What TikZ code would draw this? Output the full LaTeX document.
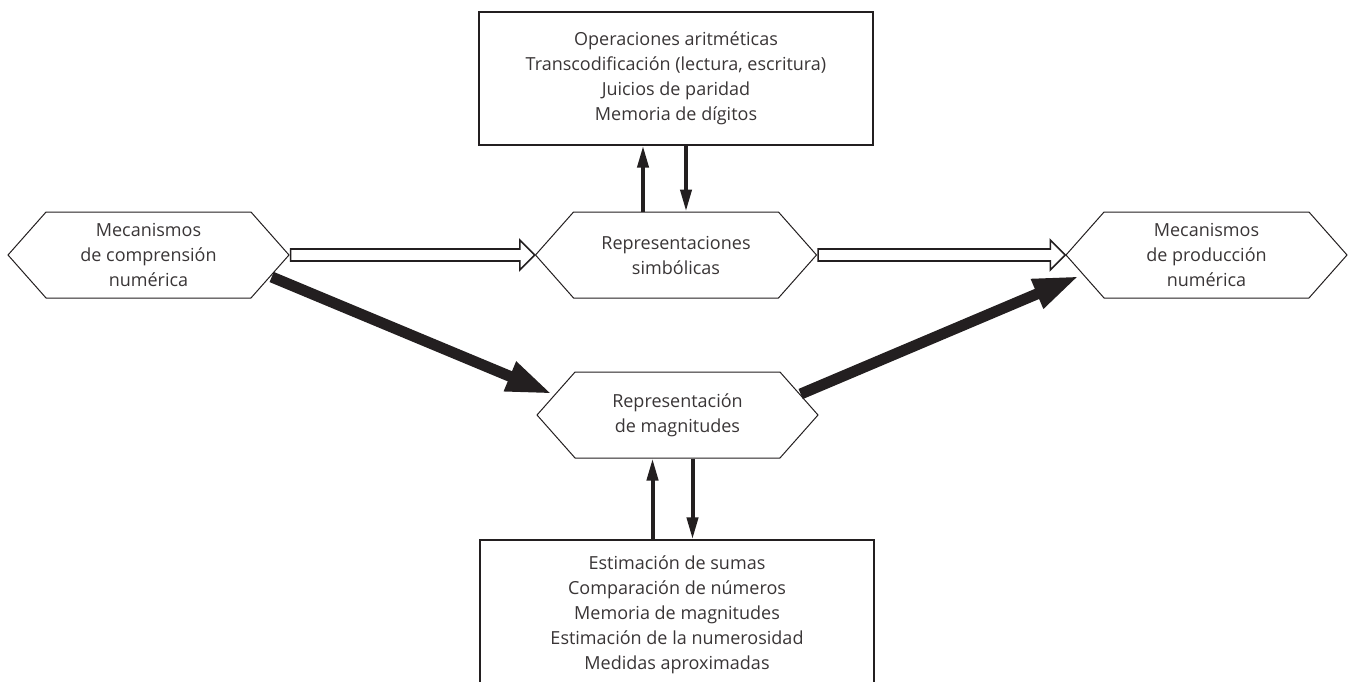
\documentclass[tikz,border=0pt]{standalone}
\usepackage{fontspec}
\setmainfont{Open Sans}
\usetikzlibrary{shapes.symbols,arrows.meta,calc}
\definecolor{ink}{RGB}{35,31,32}

\begin{document}
\begin{tikzpicture}[
            x = 1pt, y = -1pt,
            hexa/.style = {draw = ink, line width = 1pt, signal, signal to = west and east,
                           signal pointer angle = 97, minimum width = 281pt, minimum height = 86pt,
                           inner sep = 0pt, align = center, text = ink!90,
                           font = \fontsize{18}{25}\selectfont},
            tasks/.style = {draw = ink, line width = 1.3pt, rectangle, minimum width = 394pt,
                            align = center, text = ink!90, font = \fontsize{18}{25}\selectfont},
            link/.style = {draw = ink, line width = 4pt, -{Triangle[length = 22pt, width = 11pt]}},
            bold link/.style = {draw = ink, line width = 11pt, -{Triangle[length = 46pt, width = 29pt]}},
            open link/.style = {draw = ink, line width = 1.6pt, fill = white, line join = miter}
            ]
            \useasboundingbox (0,0) rectangle (1351,682);
            \clip (0,0) rectangle (1351,682);

            % hexagons
            \node[hexa] (comp) at (148.5,255) {Mecanismos\\de comprensión\\numérica};
            \node[hexa] (sim) at (676,255) {Representaciones\\simbólicas};
            \node[hexa] (prod) at (1206.5,255) {Mecanismos\\de producción\\numérica};
            \node[hexa] (mag) at (677.5,415) {Representación\\de magnitudes};

            % task boxes
            \node[tasks, minimum height = 133pt] (ops) at (676,78.5)
                 {Operaciones aritméticas\\Transcodificación (lectura, escritura)\\Juicios de paridad\\Memoria de dígitos};
            \node[tasks, minimum height = 150pt] (est) at (677,615)
                 {Estimación de sumas\\Comparación de números\\Memoria de magnitudes\\Estimación de la numerosidad\\Medidas aproximadas};

            % vertical links
            \draw[link] ([xshift = -33pt]sim.north) -- ([xshift = -33pt]sim.north |- ops.south);
            \draw[link] ([xshift = 10pt]sim.north |- ops.south) -- ([xshift = 10pt]sim.north);
            \draw[link] ([xshift = -25pt]mag.south |- est.north) -- ([xshift = -25pt]mag.south);
            \draw[link] ([xshift = 15pt]mag.south) -- ([xshift = 15pt]mag.south |- est.north);

            % bold links
            \draw[bold link] ($(comp.east)+(-18,22)$) -- ($(mag.west)+(16,-21)$);
            \draw[bold link] ($(mag.east)+(-18,-21)$) -- ($(prod.west)+(14,21)$);

            % open links
            \draw[open link] ($(comp.east)+(1,-6)$) -- ($(sim.west)+(-15,-6)$) -- ($(sim.west)+(-15,-15)$)
                 -- (sim.west) -- ($(sim.west)+(-15,15)$) -- ($(sim.west)+(-15,6)$) -- ($(comp.east)+(1,6)$) -- cycle;
            \draw[open link] ($(sim.east)+(1,-6)$) -- ($(prod.west)+(-15,-6)$) -- ($(prod.west)+(-15,-15)$)
                 -- (prod.west) -- ($(prod.west)+(-15,15)$) -- ($(prod.west)+(-15,6)$) -- ($(sim.east)+(1,6)$) -- cycle;
\end{tikzpicture}
\end{document}
